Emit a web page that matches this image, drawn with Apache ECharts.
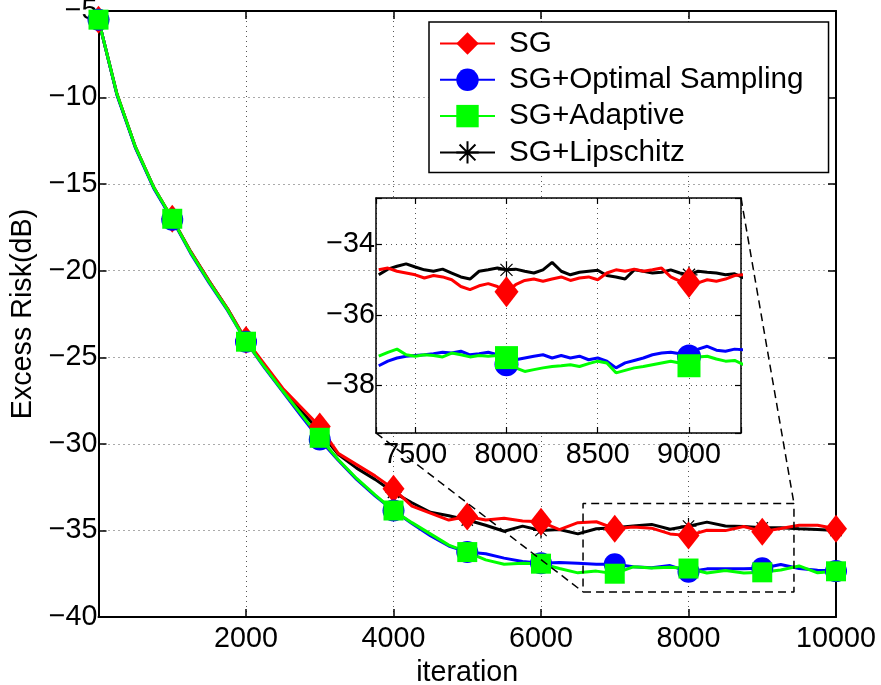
<!DOCTYPE html>
<html><head><meta charset="utf-8">
<script src="https://cdn.jsdelivr.net/npm/echarts@6/dist/echarts.min.js"></script>
<style>html,body{margin:0;padding:0;background:#fff}#c{width:881px;height:685px}</style>
</head><body><div id="c"></div>
<script>
// ---------------- data ----------------
const seriesNames = ['SG', 'SG+Optimal Sampling', 'SG+Adaptive', 'SG+Lipschitz'];

const mainIter = [0,250,500,750,1000,1250,1500,1750,2000,2250,2500,2750,3000,3250,3500,3750,4000,4250,4500,4750,5000,5250,5500,5750,6000,6250,6500,6750,7000,7250,7500,7750,8000,8250,8500,8750,9000,9250,9500,9750,10000];

const sgMain  = [-5.5,-9.8,-12.85,-15.2,-17.0,-18.9,-20.6,-22.2,-24.0,-25.4,-26.8,-27.9,-29.0,-30.55,-31.2,-31.85,-32.6,-33.6,-34.0,-34.4,-34.2,-34.4,-34.3,-34.45,-34.5,-34.95,-34.55,-34.5,-34.9,-34.8,-34.87,-35.2,-35.3,-34.99,-35.01,-34.77,-35.07,-34.89,-34.7,-34.7,-34.9];
const optMain = [-5.5,-9.85,-12.9,-15.25,-17.05,-19.0,-20.7,-22.3,-24.1,-25.6,-27.0,-28.4,-29.75,-30.95,-32.05,-33.0,-33.85,-34.6,-35.3,-35.9,-36.25,-36.35,-36.6,-36.8,-36.9,-36.85,-36.9,-36.95,-36.95,-37.1,-37.15,-37.03,-37.38,-37.22,-37.22,-37.22,-37.18,-36.97,-37.2,-37.3,-37.35];
const adaMain = [-5.5,-9.8,-12.85,-15.2,-17.0,-18.95,-20.65,-22.25,-24.1,-25.55,-26.95,-28.3,-29.65,-30.9,-32.0,-32.95,-33.85,-34.55,-35.2,-35.85,-36.25,-36.7,-36.95,-36.9,-36.92,-37.2,-37.45,-37.35,-37.5,-37.1,-37.17,-37.13,-37.2,-37.46,-37.31,-37.46,-37.42,-37.29,-37.05,-37.45,-37.36];
const lipMain = [-5.5,-9.8,-12.85,-15.2,-17.0,-18.9,-20.6,-22.2,-24.05,-25.5,-26.9,-28.1,-29.3,-30.6,-31.4,-32.05,-32.8,-33.4,-33.95,-34.15,-34.4,-34.7,-35.05,-34.75,-35.0,-34.95,-35.2,-34.9,-34.85,-34.75,-34.65,-34.93,-34.75,-34.52,-34.74,-34.77,-34.85,-34.84,-34.9,-34.95,-35.0];

const insetIter = [7300,7350,7400,7450,7500,7550,7600,7650,7700,7750,7800,7850,7900,7950,8000,8050,8100,8150,8200,8250,8300,8350,8400,8450,8500,8550,8600,8650,8700,8750,8800,8850,8900,8950,9000,9050,9100,9150,9200,9250,9300];
const sgInset  = [-34.73,-34.68,-34.77,-34.82,-34.87,-34.96,-34.89,-34.93,-35.01,-35.2,-35.29,-35.18,-35.12,-35.2,-35.35,-35.15,-35.03,-34.99,-35.05,-34.99,-34.93,-35.03,-34.96,-34.93,-35.01,-34.82,-34.73,-34.77,-34.71,-34.77,-34.73,-34.68,-34.93,-35.05,-35.09,-35.1,-35.01,-35.05,-34.99,-34.89,-34.87];
const optInset = [-37.44,-37.31,-37.22,-37.17,-37.15,-37.13,-37.1,-37.06,-37.08,-37.03,-37.13,-37.1,-37.06,-37.13,-37.4,-37.27,-37.22,-37.17,-37.13,-37.22,-37.15,-37.22,-37.17,-37.27,-37.22,-37.31,-37.5,-37.36,-37.29,-37.22,-37.13,-37.08,-37.06,-37.1,-37.18,-36.97,-36.89,-37.0,-37.03,-36.97,-36.99];
const adaInset = [-37.17,-37.06,-36.97,-37.13,-37.17,-37.13,-37.15,-37.19,-37.08,-37.13,-37.19,-37.15,-37.17,-37.15,-37.21,-37.5,-37.6,-37.55,-37.5,-37.46,-37.44,-37.41,-37.46,-37.38,-37.31,-37.36,-37.64,-37.57,-37.5,-37.46,-37.41,-37.36,-37.31,-37.36,-37.44,-37.19,-37.17,-37.25,-37.31,-37.29,-37.41];
const lipInset = [-34.87,-34.71,-34.63,-34.56,-34.65,-34.73,-34.77,-34.71,-34.82,-34.93,-34.99,-34.77,-34.73,-34.68,-34.73,-34.71,-34.77,-34.82,-34.73,-34.52,-34.77,-34.87,-34.8,-34.77,-34.74,-34.89,-34.93,-34.99,-34.73,-34.77,-34.82,-34.8,-34.73,-34.82,-34.87,-34.77,-34.8,-34.82,-34.87,-34.84,-34.96];

const markerEvery = 1000;
const mainXRange = [0, 10000], mainXStep = 2000;
const mainYRange = [-40, -5], mainYStep = 5;
const insetXRange = [7285, 9285], insetXStep = 500;
const insetYRange = [-39.34, -32.7], insetYStep = 2;
const zoomBoxX = [6570, 9430];
const zoomBoxY = [-38.55, -33.45];

// ---------------- styles ----------------
const FONT = 'Liberation Sans';
const FS = 28.7;
const FS_LEG = 29.7;
const colors = ['#ff0000', '#0000ff', '#00ff00', '#000000'];
const STAR = 'path://M10,0L10,20M0,10L20,10M2.9,2.9L17.1,17.1M2.9,17.1L17.1,2.9';
const symbols = ['diamond', 'circle', 'rect', STAR];
const mainSizes = [[22, 28], 22, 20, 16];
const insetSizes = [[24, 31], 24, 23, 17];
const drawOrder = [3, 0, 1, 2]; // Lipschitz drawn first (underneath), then SG, Optimal, Adaptive

const minus = v => (v < 0 ? '\u2212' + String(Math.abs(v)) : String(v));
const stepFmt = step => v => (Math.abs(v / step - Math.round(v / step)) < 1e-6 ? minus(v) : '');
const gridDots = { show: true, lineStyle: { color: '#555', width: 1, type: [1, 4] } };

function axisCommon(extra) {
  return Object.assign({
    type: 'value',
    axisLine: { show: true, onZero: false, lineStyle: { color: '#000', width: 2 } },
    axisTick: { show: true, inside: true, length: 8, lineStyle: { color: '#000', width: 1.5 } },
    axisLabel: { show: false },
    splitLine: { show: false }
  }, extra);
}
const insetLine = { show: true, onZero: false, lineStyle: { color: '#000', width: 1.5 } };
const insetTick = { show: true, inside: true, length: 6, lineStyle: { color: '#000', width: 1.2 } };

const xAxes = [
  axisCommon({ gridIndex: 0, position: 'bottom', min: mainXRange[0], max: mainXRange[1], interval: mainXStep,
    axisLabel: { show: true, color: '#000', fontSize: FS, fontFamily: FONT, margin: 8, formatter: v => (v === 0 ? '' : minus(v)) },
    splitLine: gridDots,
    name: 'iteration', nameLocation: 'middle', nameGap: 39,
    nameTextStyle: { color: '#000', fontSize: FS, fontFamily: FONT } }),
  axisCommon({ gridIndex: 0, position: 'top', min: mainXRange[0], max: mainXRange[1], interval: mainXStep }),
  axisCommon({ gridIndex: 1, position: 'bottom', min: insetXRange[0], max: insetXRange[1],
    minInterval: insetXStep, maxInterval: insetXStep, z: 3, axisLine: insetLine, axisTick: insetTick,
    axisLabel: { show: true, color: '#000', fontSize: FS, fontFamily: FONT, margin: 8, formatter: stepFmt(insetXStep) },
    splitLine: gridDots }),
  axisCommon({ gridIndex: 1, position: 'top', min: insetXRange[0], max: insetXRange[1],
    minInterval: insetXStep, maxInterval: insetXStep, z: 3, axisLine: insetLine, axisTick: insetTick })
];

const yAxes = [
  axisCommon({ gridIndex: 0, position: 'left', min: mainYRange[0], max: mainYRange[1], interval: mainYStep,
    axisLabel: { show: true, color: '#000', fontSize: FS, fontFamily: FONT, margin: 1, formatter: minus },
    splitLine: gridDots,
    name: 'Excess Risk(dB)', nameLocation: 'middle', nameGap: 59,
    nameTextStyle: { color: '#000', fontSize: FS, fontFamily: FONT } }),
  axisCommon({ gridIndex: 0, position: 'right', min: mainYRange[0], max: mainYRange[1], interval: mainYStep }),
  axisCommon({ gridIndex: 1, position: 'left', min: insetYRange[0], max: insetYRange[1],
    minInterval: insetYStep, maxInterval: insetYStep, z: 3, axisLine: insetLine, axisTick: insetTick,
    axisLabel: { show: true, color: '#000', fontSize: FS, fontFamily: FONT, margin: 1, formatter: stepFmt(insetYStep) },
    splitLine: gridDots }),
  axisCommon({ gridIndex: 1, position: 'right', min: insetYRange[0], max: insetYRange[1],
    minInterval: insetYStep, maxInterval: insetYStep, z: 3, axisLine: insetLine, axisTick: insetTick })
];

function makeSeries(i, xs, ys, axisIdx, z, size) {
  const isStar = i === 3;
  return {
    type: 'line', name: seriesNames[i],
    xAxisIndex: axisIdx, yAxisIndex: axisIdx, z: z,
    data: xs.map((x, k) => [x, ys[k]]),
    symbol: symbols[i],
    symbolSize: (val) => (val[0] % markerEvery === 0 ? size : 0),
    showAllSymbol: true,
    lineStyle: { color: colors[i], width: 3 },
    itemStyle: isStar ? { color: '#000', borderColor: '#000', borderWidth: 1.2 } : { color: colors[i] },
    color: colors[i],
    animation: false, silent: true, emphasis: { disabled: true }
  };
}

const mainSets = [sgMain, optMain, adaMain, lipMain];
const insetSets = [sgInset, optInset, adaInset, lipInset];
const series = [];
drawOrder.forEach(i => series.push(makeSeries(i, mainIter, mainSets[i], 0, 2, mainSizes[i])));
series.push({
  type: 'line', name: 'zoomBox', xAxisIndex: 0, yAxisIndex: 0, z: 2,
  data: [[zoomBoxX[0], zoomBoxY[0]], [zoomBoxX[1], zoomBoxY[0]], [zoomBoxX[1], zoomBoxY[1]], [zoomBoxX[0], zoomBoxY[1]], [zoomBoxX[0], zoomBoxY[0]]],
  symbol: 'none', lineStyle: { color: '#000', width: 1.5, type: [8, 5] },
  animation: false, silent: true, emphasis: { disabled: true }
});
drawOrder.forEach(i => series.push(makeSeries(i, insetIter, insetSets[i], 2, 4, insetSizes[i])));

const chart = echarts.init(document.getElementById('c'), null, { renderer: 'canvas' });
chart.setOption({
  animation: false,
  backgroundColor: '#fff',
  textStyle: { fontFamily: FONT },
  grid: [
    { left: 98.5, right: 45, top: 11, bottom: 68, show: false, outerBoundsMode: 'none', containLabel: false },
    { left: 376, right: 140, top: 198, bottom: 252, show: true, backgroundColor: '#fff', borderWidth: 0, z: 3, outerBoundsMode: 'none', containLabel: false }
  ],
  legend: {
    orient: 'vertical', left: 429, top: 22, padding: [6.5, 25, 5, 10],
    itemGap: 6.3, itemWidth: 55, itemHeight: 28,
    backgroundColor: '#fff', borderColor: '#000', borderWidth: 1.5, borderRadius: 0,
    textStyle: { fontSize: FS_LEG, color: '#000', fontFamily: FONT, padding: [0, 0, 0, 9] },
    data: seriesNames, selectedMode: false, z: 5
  },
  xAxis: xAxes,
  yAxis: yAxes,
  series: series
});

// connecting dashed lines from zoom box to inset, via the library's scales
const inBL = chart.convertToPixel({ xAxisIndex: 2, yAxisIndex: 2 }, [insetXRange[0], insetYRange[0]]);
const inTR = chart.convertToPixel({ xAxisIndex: 2, yAxisIndex: 2 }, [insetXRange[1], insetYRange[1]]);
const boxBL = chart.convertToPixel({ xAxisIndex: 0, yAxisIndex: 0 }, [zoomBoxX[0], zoomBoxY[0]]);
const boxTR = chart.convertToPixel({ xAxisIndex: 0, yAxisIndex: 0 }, [zoomBoxX[1], zoomBoxY[1]]);
const dash = { stroke: '#000', lineWidth: 1.5, lineDash: [8, 5] };
chart.setOption({
  graphic: [
    { type: 'line', z: 10, silent: true, shape: { x1: inBL[0], y1: inBL[1], x2: boxBL[0], y2: boxBL[1] }, style: dash },
    { type: 'line', z: 10, silent: true, shape: { x1: inTR[0], y1: inTR[1], x2: boxTR[0], y2: boxTR[1] }, style: dash }
  ]
});
</script>
</body></html>
